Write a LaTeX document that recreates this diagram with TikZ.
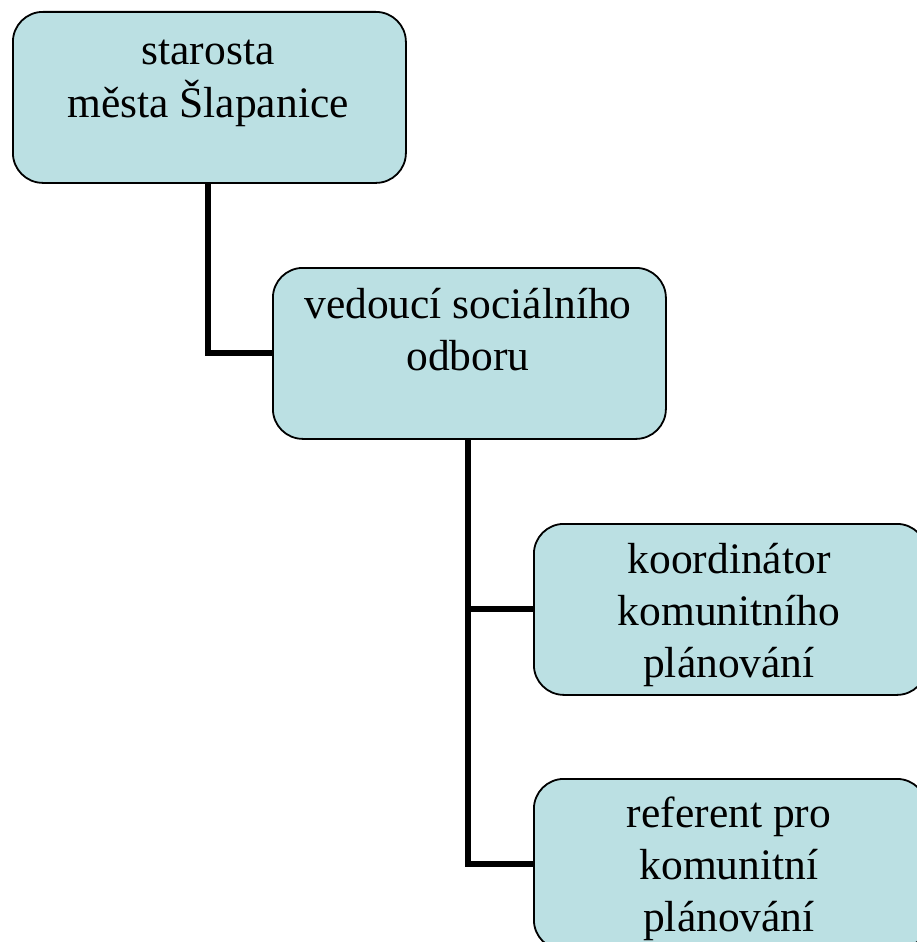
\documentclass[tikz,border=0pt]{standalone}
\usepackage{fontspec}
\setmainfont{Liberation Serif}
\definecolor{boxfill}{RGB}{187,224,227}
\begin{document}
\begin{tikzpicture}[x=1pt,y=-1pt,
  orgbox/.style={draw=black,line width=1.8pt,fill=boxfill,rounded corners=30pt,inner sep=0pt,minimum width=393pt,minimum height=171pt,anchor=north west},
  orgtext/.style={align=center,font=\fontsize{43.5}{52}\selectfont,anchor=base,inner sep=0pt},
  link/.style={line width=6pt}]
\useasboundingbox (0,0) rectangle (916,942);
\node[orgbox] (b1) at (12,11) {};
\node[orgbox] (b2) at (272,267) {};
\node[orgbox] (b3) at (533,523) {};
\node[orgbox] (b4) at (533,778) {};
\node[orgtext] (t1) at (208,117) {starosta\\města Šlapanice};
\node[orgtext] (t2) at (468,370) {vedoucí sociálního\\odboru};
\node[orgtext] (t3) at (729,677) {koordinátor\\komunitního\\plánování};
\node[orgtext] (t4) at (729,931) {referent pro\\komunitní\\plánování};
\coordinate (s1) at (208,182);
\coordinate (s2) at (468,438);
\draw[link] (s1) |- (b2.west);
\draw[link] (s2) |- (b3.west);
\draw[link] (s2) |- (b4.west);
\end{tikzpicture}
\end{document}
